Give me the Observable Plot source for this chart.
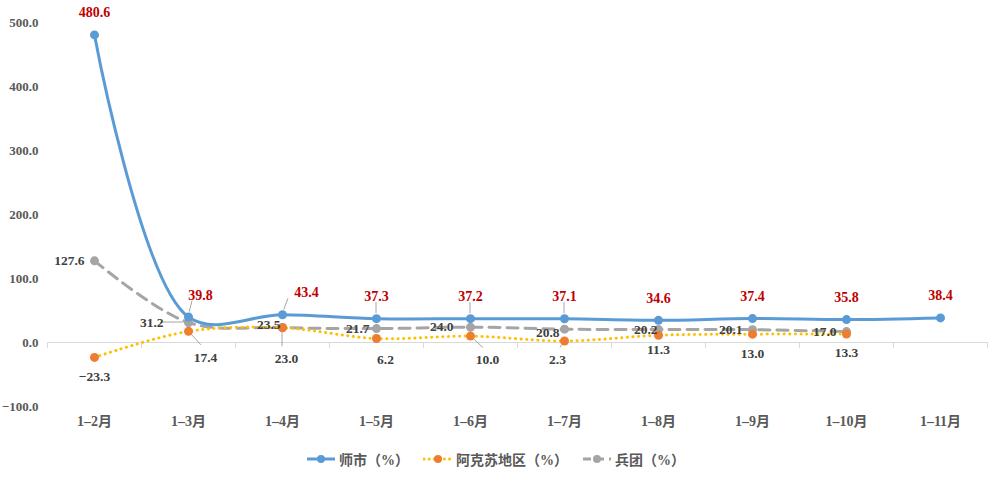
<!DOCTYPE html>
<html>
<head>
<meta charset="utf-8">
<script src="https://cdn.jsdelivr.net/npm/d3@7"></script>
<script src="https://cdn.jsdelivr.net/npm/@observablehq/plot@0.6"></script>
<style>
  body { margin: 0; background: #fff; }
  #chart { width: 991px; }
  #chart svg text { font-family: "Liberation Serif", "Noto Sans CJK SC", serif !important; font-weight: bold; }
  .legend { display: flex; justify-content: center; align-items: center; height: 38px; gap: 14px;
    font-family: "Liberation Serif", "Noto Sans CJK SC", serif; font-weight: bold; font-size: 14px; color: #595959; }
  .legend .item { display: flex; align-items: center; gap: 3px; }
</style>
</head>
<body>
<div id="chart"></div>
<script>
const categories = ["1–2月", "1–3月", "1–4月", "1–5月", "1–6月", "1–7月", "1–8月", "1–9月", "1–10月", "1–11月"];
const shishi = [480.6, 39.8, 43.4, 37.3, 37.2, 37.1, 34.6, 37.4, 35.8, 38.4];
const akesu = [-23.3, 17.4, 23.0, 6.2, 10.0, 2.3, 11.3, 13.0, 13.3, null];
const bingtuan = [127.6, 31.2, 23.5, 21.7, 24.0, 20.8, 20.2, 20.1, 17.0, null];
const yTicks = [-100, 0, 100, 200, 300, 400, 500];
const seriesNames = ["师市（%）", "阿克苏地区（%）", "兵团（%）"];

const BLUE = "#5B9BD5", GOLD = "#FFC000", ORANGE = "#ED7D31", GRAY = "#A5A5A5";
const FONT = "Liberation Serif, Noto Sans CJK SC, serif";

const rows = arr => arr.map((v, i) => ({i, v})).filter(d => d.v != null);
const sS = rows(shishi), sA = rows(akesu), sB = rows(bingtuan);
const bounds = d3.range(categories.length + 1).map(k => k - 0.5);
const fmt = v => (v < 0 ? "−" : "") + Math.abs(v).toFixed(1);

// label nudges (pixel offsets) per series, by index
const blueDx = i => (i === 1 ? 12 : i === 2 ? 24 : 0);
const grayDx = i => ({1: -15, 2: 8, 3: 3, 4: -7, 5: 5, 6: 9})[i] ?? 0;
const grayDy = i => ({2: -3, 5: 3})[i] ?? 0;
const orangeDx = i => ({1: 17, 2: 4, 3: 9, 4: 17, 5: -7})[i] ?? 0;
const orangeDy = i => ({1: 26, 2: 31, 3: 21, 4: 24, 6: 14})[i] ?? 19;

const textStyle = {fontFamily: FONT, fontWeight: "bold"};

const plot = Plot.plot({
  width: 991,
  height: 440,
  marginLeft: 47,
  marginRight: 4,
  marginTop: 22,
  marginBottom: 34,
  style: {fontFamily: FONT, background: "#fff"},
  x: {domain: [-0.5, categories.length - 0.5], axis: null, label: null},
  y: {domain: [-100, 500], axis: null, label: null},
  marks: [
    Plot.ruleY([0], {stroke: "#D9D9D9", strokeWidth: 1}),
    Plot.ruleX(bounds, {x: d => d, y1: 0, y2: -9.4, stroke: "#D9D9D9"}),
    Plot.axisY({ticks: yTicks, tickSize: 0, tickPadding: 9, tickFormat: fmt, label: null,
      ...textStyle, fontSize: 13, fill: "#595959"}),
    Plot.axisX({ticks: d3.range(categories.length), tickSize: 0, tickPadding: 10, label: null,
      tickFormat: i => categories[i], ...textStyle, fontSize: 14, fill: "#595959"}),
    Plot.line(sB, {x: "i", y: "v", stroke: GRAY, strokeWidth: 3, strokeDasharray: "11 7", curve: "catmull-rom"}),
    Plot.line(sA, {x: "i", y: "v", stroke: GOLD, strokeWidth: 3, strokeDasharray: "0.1 5.5", strokeLinecap: "round", curve: "catmull-rom"}),
    Plot.line(sS, {x: "i", y: "v", stroke: BLUE, strokeWidth: 3, curve: "catmull-rom"}),
    Plot.dot(sB, {x: "i", y: "v", r: 4.5, fill: GRAY}),
    Plot.dot(sA, {x: "i", y: "v", r: 4.5, fill: ORANGE}),
    Plot.dot(sS, {x: "i", y: "v", r: 4.5, fill: BLUE}),
    Plot.text(sS, {x: "i", y: "v", text: d => fmt(d.v), dy: -22,
      fill: "#C00000", ...textStyle, fontSize: 14}),
    Plot.text(sB, {x: "i", y: "v", text: d => fmt(d.v), dx: -10, textAnchor: "end",
      fill: "#404040", ...textStyle, fontSize: 13.5}),
    Plot.text(sA, {x: "i", y: "v", text: d => fmt(d.v), dy: 19,
      fill: "#404040", ...textStyle, fontSize: 13.5})
  ]
});

// apply per-label pixel nudges
const svg = d3.select(plot);
const textGroups = svg.selectAll("g[aria-label='text']").nodes();
const nudge = (g, data, fx, fy) => {
  d3.select(g).selectAll("text").each(function(_, k) {
    const d = data[k];
    const t = d3.select(this);
    const tr = t.attr("transform") || "";
    t.attr("transform", tr + ` translate(${fx(d.i)},${fy(d.i)})`);
  });
};
if (textGroups.length >= 3) {
  nudge(textGroups[0], sS, blueDx, () => 0);
  nudge(textGroups[1], sB, grayDx, grayDy);
  nudge(textGroups[2], sA, orangeDx, i => orangeDy(i) - 19);
}

// leader lines from points toward their nudged labels
const sx = plot.scale("x"), sy = plot.scale("y");
const leaders = [];
[1, 2, 3, 4, 5].forEach(i => leaders.push({v: shishi[i], i, lx: blueDx(i) - (i === 1 ? 8 : i === 2 ? 18 : 0), ly: -16, gap0: 5}));
[1].forEach(i => leaders.push({v: bingtuan[i], i, lx: -26, ly: 0, gap0: 5}));
[1, 2, 4, 5].forEach(i => leaders.push({v: akesu[i], i, lx: orangeDx(i) - (i === 5 ? -3 : 4), ly: orangeDy(i) - 12, gap0: 5}));
const lg = svg.append("g").attr("stroke", "#A6A6A6").attr("stroke-width", 1);
leaders.forEach(l => {
  const px = sx.apply(l.i), py = sy.apply(l.v);
  const dx = l.lx, dy = l.ly, len = Math.hypot(dx, dy);
  if (len < l.gap0 + 2) return;
  lg.append("line")
    .attr("x1", px + dx / len * l.gap0).attr("y1", py + dy / len * l.gap0)
    .attr("x2", px + dx).attr("y2", py + dy);
});
// keep labels and dots above leaders
svg.selectAll("g[aria-label='dot'], g[aria-label='text']").raise();

document.getElementById("chart").appendChild(plot);

// legend
const legend = document.createElement("div");
legend.className = "legend";
const legendStyles = [
  {stroke: BLUE, dash: null, dot: BLUE, cap: "butt"},
  {stroke: GOLD, dash: "0.1 5", dot: ORANGE, cap: "round"},
  {stroke: GRAY, dash: "8 5", dot: GRAY, cap: "butt"}
];
seriesNames.forEach((name, k) => {
  const s = legendStyles[k];
  const item = document.createElement("div");
  item.className = "item";
  item.innerHTML = `<svg width="30" height="12"><line x1="1" y1="6" x2="29" y2="6" stroke="${s.stroke}" stroke-width="3" ${s.dash ? `stroke-dasharray="${s.dash}"` : ""} stroke-linecap="${s.cap}"/><circle cx="15" cy="6" r="4" fill="${s.dot}"/></svg><span>${name}</span>`;
  legend.appendChild(item);
});
document.body.appendChild(legend);
</script>
</body>
</html>
